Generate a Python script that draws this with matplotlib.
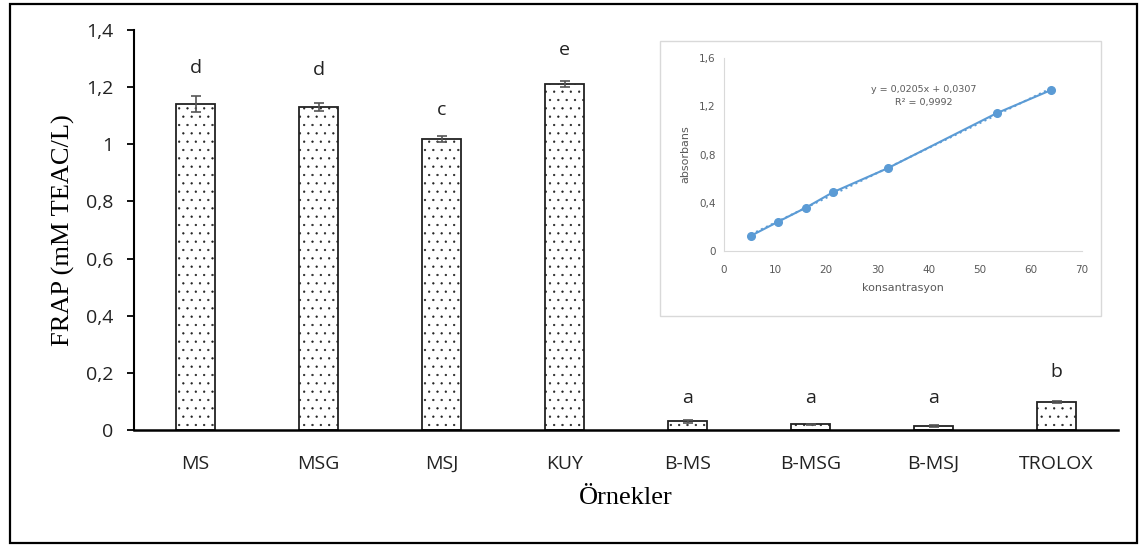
import numpy as np
import matplotlib.pyplot as plt
from matplotlib.patches import Rectangle

plt.rcParams['hatch.linewidth'] = 0.4

# ana grafik verileri
ornekler = ['MS', 'MSG', 'MSJ', 'KUY', 'B-MS', 'B-MSG', 'B-MSJ', 'TROLOX']
frap = [1.141, 1.13, 1.019, 1.211, 0.03, 0.02, 0.014, 0.098]
hata = [0.027, 0.015, 0.011, 0.01, 0.005, 0.002, 0.003, 0.004]
harfler = ['d', 'd', 'c', 'e', 'a', 'a', 'a', 'b']
harf_y = [1.267, 1.26, 1.12, 1.33, 0.112, 0.112, 0.112, 0.203]

# standart egri verileri
konsantrasyon = [5.3, 10.6, 16.0, 21.3, 32.0, 53.3, 64.0]
absorbans = [0.127, 0.243, 0.359, 0.487, 0.686, 1.142, 1.335]

fig = plt.figure(figsize=(11.45, 5.47), dpi=100)
W, H = 1145, 547

# dis cerceve
fig.patches.append(Rectangle((10 / W, 4 / H), 1127 / W, 539 / H, transform=fig.transFigure,
                             fill=False, edgecolor='black', linewidth=1.6))

ax = fig.add_axes([134 / W, 1 - 430 / H, (1118 - 134) / W, 400 / H])
x = np.arange(len(ornekler))
ax.bar(x, frap, width=0.325, color='white', edgecolor='#222222', linewidth=1.3, hatch='..')
ax.errorbar(x, frap, yerr=hata, fmt='none', ecolor='#555555', elinewidth=1.2, capsize=3.8, capthick=1.2)
for xi, h, hy in zip(x, harfler, harf_y):
    ax.text(xi, hy, h, ha='center', va='center', fontsize=14, family='Open Sans', color='#222222')

ax.set_xlim(-0.5, 7.5)
ax.set_ylim(0, 1.4)
ax.set_yticks(np.arange(0, 1.41, 0.2))
ax.set_yticklabels(['0', '0,2', '0,4', '0,6', '0,8', '1', '1,2', '1,4'])
ax.set_xticks(x)
ax.set_xticklabels(ornekler)
ax.tick_params(axis='x', length=0, pad=18, labelsize=14)
ax.tick_params(axis='y', length=5, width=1.3, pad=10, labelsize=14)
for lbl in ax.get_xticklabels() + ax.get_yticklabels():
    lbl.set_family('Open Sans')
    lbl.set_color('#222222')
ax.spines['top'].set_visible(False)
ax.spines['right'].set_visible(False)
ax.spines['left'].set_linewidth(1.5)
ax.spines['bottom'].set_linewidth(1.8)
ax.set_ylabel('FRAP (mM TEAC/L)', family='Liberation Serif', fontsize=19, labelpad=8)
ax.set_xlabel('Örnekler', family='Liberation Serif', fontsize=19, labelpad=10)

# ic grafik
kutu = Rectangle((660 / W, 1 - 316 / H), 441 / W, 275 / H, transform=fig.transFigure,
                 facecolor='white', edgecolor='#d9d9d9', linewidth=1, zorder=2)
fig.patches.append(kutu)
ins = fig.add_axes([724 / W, 1 - 251 / H, (1082 - 724) / W, 193 / H])
ins.set_zorder(3)
ins.patch.set_alpha(0)
ins.plot(konsantrasyon, absorbans, '-o', color='#5b9bd5', markersize=5.5, linewidth=1.5)
k = np.polyfit(konsantrasyon, absorbans, 1)
xs = np.array([konsantrasyon[0], konsantrasyon[-1]])
ins.plot(xs, np.polyval(k, xs), ':', color='#5b9bd5', linewidth=1.5)
ins.set_xlim(0, 70)
ins.set_ylim(0, 1.6)
ins.set_xticks(range(0, 71, 10))
ins.set_yticks([0, 0.4, 0.8, 1.2, 1.6])
ins.set_yticklabels(['0', '0,4', '0,8', '1,2', '1,6'])
ins.tick_params(axis='x', length=0, labelsize=7.5, colors='#595959', pad=10)
ins.tick_params(axis='y', length=0, labelsize=7.5, colors='#595959', pad=6)
for s in ['top', 'right']:
    ins.spines[s].set_visible(False)
for s in ['left', 'bottom']:
    ins.spines[s].set_color('#d9d9d9')
ins.set_xlabel('konsantrasyon', fontsize=8, color='#595959', labelpad=6)
ins.set_ylabel('absorbans', fontsize=8, color='#595959', labelpad=6)
ins.text(0.559, 0.803, 'y = 0,0205x + 0,0307\nR² = 0,9992', transform=ins.transAxes,
         ha='center', va='center', fontsize=6.8, color='#595959', linespacing=1.6)

fig.savefig('out.png', dpi=100)
